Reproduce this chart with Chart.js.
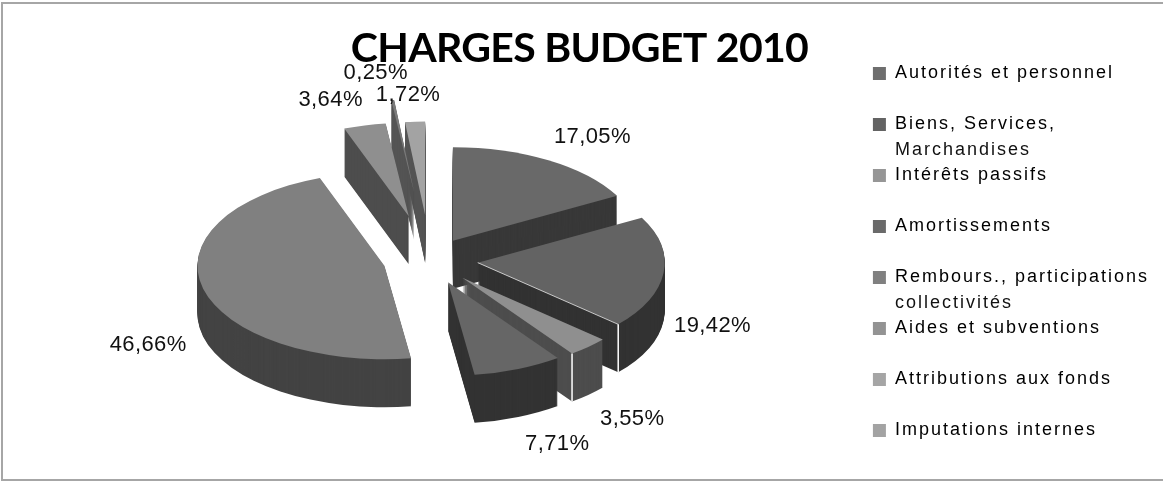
<!DOCTYPE html>
<html>
<head>
<meta charset="utf-8">
<title>Charges budget 2010</title>
<script src="https://cdn.jsdelivr.net/npm/chart.js@4"></script>
<style>
html, body { margin: 0; padding: 0; background: #fff; }
#wrap { width: 1163px; height: 481px; }
</style>
</head>
<body>
<div id="wrap"><canvas id="budget"></canvas></div>
<script>
var titleText = 'CHARGES BUDGET 2010';
var categories = ['Autorités et personnel', 'Biens, Services,\nMarchandises', 'Intérêts passifs', 'Amortissements',
    'Rembours., participations\ncollectivités', 'Aides et subventions', 'Attributions aux fonds', 'Imputations internes'];
var shares = [17.05, 19.42, 3.55, 7.71, 46.66, 3.64, 0.25, 1.72];
var shareLabels = ['17,05%', '19,42%', '3,55%', '7,71%', '46,66%', '3,64%', '0,25%', '1,72%'];

var topColors = ['#696969', '#636363', '#8f8f8f', '#666666', '#808080', '#8f8f8f', '#7a7a7a', '#a3a3a3'];
var sideColors = ['#383838', '#323232', '#4d4d4d', '#333333', '#434343', '#4d4d4d', '#555555', '#555555'];
var legendColors = ['#6e6e6e', '#636363', '#969696', '#6a6a6a', '#808080', '#939393', '#a5a5a5', '#a3a3a3'];

// how far each slice is pulled out of the pie
var explode = [45, 48, 48, 48, 47, 90, 135, 90];
// label position relative to the middle of the outer rim of the slice
var labelNudge = [[44, -23], [49, 53], [44, 72], [39, 75], [-55, 56], [-34, -25], [-17, -27], [-7, -27]];
var paintOrder = [7, 6, 5, 0, 4, 1, 2, 3];
var whiteEdges = [1, 2];

var pieX = 430, pieY = 260, pieRadius = 187, squash = 0.5, depth = 48;
var legendSpacing = '2px', titleSpacing = '-0.7px';

function spacing(ctx, v) {
    ctx.letterSpacing = v;
}

function drawLayer(ctx, el, i, d) {
    var mid = (el.startAngle + el.endAngle) / 2;
    ctx.save();
    ctx.translate(pieX, pieY + d);
    ctx.scale(1, squash);
    ctx.translate(Math.cos(mid) * explode[i], Math.sin(mid) * explode[i]);
    ctx.translate(-el.x, -el.y);
    el.draw(ctx);
    ctx.restore();
}

var pie3d = {
    id: 'pie3d',
    beforeLayout: function(chart) {
        spacing(chart.ctx, legendSpacing);
    },
    beforeDraw: function(chart) {
        var ctx = chart.ctx;
        spacing(ctx, legendSpacing);
        // title gets its own letter spacing, the legend keeps the wide one
        if (!chart.titleBlock.spaced) {
            var drawTitle = chart.titleBlock.draw;
            chart.titleBlock.draw = function() {
                spacing(ctx, titleSpacing);
                drawTitle.apply(this, arguments);
                spacing(ctx, legendSpacing);
            };
            chart.titleBlock.spaced = true;
        }
        ctx.save();
        ctx.fillStyle = '#a6a6a6';
        ctx.fillRect(1, 2, 1162, 2);
        ctx.fillRect(1, 2, 2, 479);
        ctx.fillRect(1, 479, 1162, 2);
        ctx.restore();
    },
    beforeDatasetDraw: function(chart, args) {
        var ctx = chart.ctx;
        var arcs = args.meta.data;
        paintOrder.forEach(function(i) {
            var el = arcs[i];
            var side = Object.create(el);
            side.options = Object.assign({}, el.options, { backgroundColor: sideColors[i] });
            for (var d = depth; d > 0; d--) {
                drawLayer(ctx, side, i, d);
            }
            drawLayer(ctx, el, i, 0);
            if (whiteEdges.indexOf(i) >= 0) {
                var mid = (el.startAngle + el.endAngle) / 2;
                var tipX = pieX + Math.cos(mid) * explode[i];
                var tipY = pieY + Math.sin(mid) * explode[i] * squash;
                var rimX = tipX + Math.cos(el.endAngle) * pieRadius;
                var rimY = tipY + Math.sin(el.endAngle) * pieRadius * squash;
                ctx.save();
                ctx.strokeStyle = '#ffffff';
                ctx.lineWidth = 1.5;
                ctx.beginPath();
                ctx.moveTo(rimX, rimY);
                ctx.lineTo(rimX, rimY + depth);
                ctx.stroke();
                if (i === 1) {
                    ctx.lineWidth = 0.7;
                    ctx.beginPath();
                    ctx.moveTo(tipX, tipY);
                    ctx.lineTo(rimX, rimY);
                    ctx.stroke();
                }
                ctx.restore();
            }
        });
        return false;
    },
    afterDatasetsDraw: function(chart) {
        var ctx = chart.ctx;
        var arcs = chart.getDatasetMeta(0).data;
        ctx.save();
        spacing(ctx, '0.4px');
        ctx.font = '22px "Liberation Sans"';
        ctx.fillStyle = '#111111';
        ctx.textAlign = 'center';
        ctx.textBaseline = 'middle';
        arcs.forEach(function(el, i) {
            var mid = (el.startAngle + el.endAngle) / 2;
            var r = pieRadius + explode[i];
            ctx.fillText(shareLabels[i],
                pieX + Math.cos(mid) * r + labelNudge[i][0],
                pieY + Math.sin(mid) * r * squash + labelNudge[i][1]);
        });
        ctx.restore();
    },
    afterDraw: function(chart) {
        // legend labels only do one line per item here, so second lines go in by hand
        var ctx = chart.ctx;
        var boxes = chart.legend.legendHitBoxes;
        ctx.save();
        spacing(ctx, legendSpacing);
        ctx.font = '18px "Liberation Sans"';
        ctx.fillStyle = '#111111';
        ctx.textAlign = 'left';
        ctx.textBaseline = 'middle';
        categories.forEach(function(c, i) {
            var parts = c.split('\n');
            if (parts.length > 1) {
                ctx.fillText(parts[1], boxes[i].left + 13 + 9, boxes[i].top + boxes[i].height / 2 + 26);
            }
        });
        ctx.restore();
    }
};

new Chart(document.getElementById('budget'), {
    type: 'pie',
    data: {
        labels: categories,
        datasets: [{
            data: shares,
            backgroundColor: topColors,
            borderWidth: 0,
            radius: pieRadius
        }]
    },
    plugins: [pie3d],
    options: {
        responsive: true,
        maintainAspectRatio: false,
        animation: false,
        layout: { padding: { top: 23, right: 4, bottom: 0, left: 0 } },
        plugins: {
            tooltip: { enabled: false },
            title: {
                display: true,
                text: titleText,
                color: '#000000',
                font: { family: 'Lato', size: 41, weight: 'bold' },
                padding: { top: 1, bottom: 10 }
            },
            legend: {
                position: 'right',
                labels: {
                    color: '#111111',
                    boxWidth: 13,
                    boxHeight: 13,
                    padding: 33,
                    font: { family: '"Liberation Sans"', size: 18 },
                    generateLabels: function() {
                        return categories.map(function(c, i) {
                            return { text: c.split('\n')[0], fillStyle: legendColors[i], strokeStyle: legendColors[i], lineWidth: 0, index: i };
                        });
                    }
                }
            }
        }
    }
});
</script>
</body>
</html>
